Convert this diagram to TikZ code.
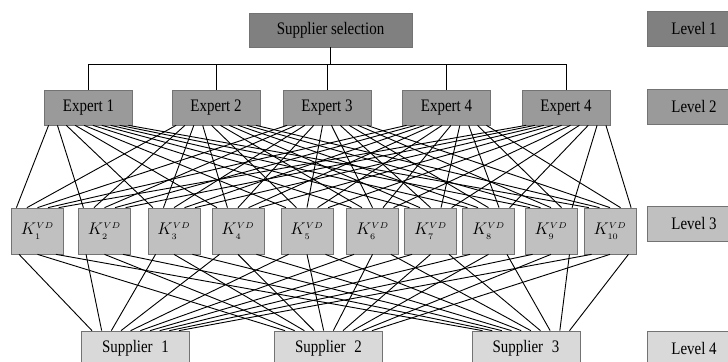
\documentclass[tikz,border=0pt]{standalone}
\usepackage{fontspec}
\setmainfont{Liberation Serif}[FakeStretch=0.85]
\usetikzlibrary{calc}
\definecolor{lvone}{HTML}{808080}
\definecolor{lvtwo}{HTML}{9A9A9A}
\definecolor{lvthree}{HTML}{C0C0C0}
\definecolor{lvfour}{HTML}{D9D9D9}

\begin{document}
\begin{tikzpicture}[x=0.025cm, y=-0.025cm,
  box/.style={draw=black!55, line width=0.5pt, inner sep=0pt, font=\fontsize{12.5}{14}\selectfont},
  topbox/.style={box, fill=lvone, minimum width=4.075cm, minimum height=0.85cm},
  expbox/.style={box, fill=lvtwo, minimum width=2.2cm, minimum height=0.875cm},
  kbox/.style={box, fill=lvthree, minimum width=1.3cm, minimum height=1.15cm},
  supbox/.style={box, fill=lvfour, minimum width=2.7cm, minimum height=0.875cm},
  lvbox/.style={minimum width=2.35cm, minimum height=0.875cm},
  lnk/.style={line width=0.65pt}]
  \useasboundingbox (0,0) rectangle (728,361);
  \clip (0,0) rectangle (728,361);
  % level 1
  \node[topbox] (sel) at (330.5,30) {Supplier selection};
  \node[topbox, lvbox] (lv1) at (694,28.5) {Level 1};
  % level 2
  \foreach \x/\n [count=\i] in {88.5/1,216/2,327/3,446.5/4,566/4}
    \node[expbox] (ex\i) at (\x,107.5) {Expert \n};
  \node[expbox, lvbox] (lv2) at (694,106.5) {Level 2};
  % level 3
  \foreach \x [count=\j] in {37.5,104.5,174,238,307,372.5,430.5,488.5,551,610}
    \node[kbox] (k\j) at (\x,231) {$K^{\scriptscriptstyle VD}_{\scriptscriptstyle\j}$};
  \node[kbox, lvbox] (lv3) at (694,223.5) {Level 3};
  % level 4
  \foreach \x [count=\s] in {135.5,328.5,526}
    \node[supbox] (sp\s) at (\x,348.5) {Supplier\enspace\s};
  \node[supbox, lvbox] (lv4) at (694,348.5) {Level 4};

  % tree
  \coordinate (bus) at (330.5,64);
  \draw[lnk] (sel) -- (bus);
  \foreach \i in {1,...,5}
    \draw[lnk] (ex\i.north) |- (bus);
  % experts to criteria
  \foreach \i in {1,...,5}
    \foreach \j in {1,...,10}
      \draw[lnk] ($(ex\i.south west)!{(\j-0.5)/10}!(ex\i.south east)$)
        -- ($(k\j.north west)!{0.1+0.2*(\i-1)}!(k\j.north east)$);
  % criteria to suppliers
  \foreach \j in {1,...,10}
    \foreach \s in {1,2,3}
      \draw[lnk] ($(k\j.south west)!{0.15+0.35*(\s-1)}!(k\j.south east)$)
        -- ($(sp\s.north west)!{0.1+0.8*(\j-1)/9}!(sp\s.north east)$);
\end{tikzpicture}
\end{document}
